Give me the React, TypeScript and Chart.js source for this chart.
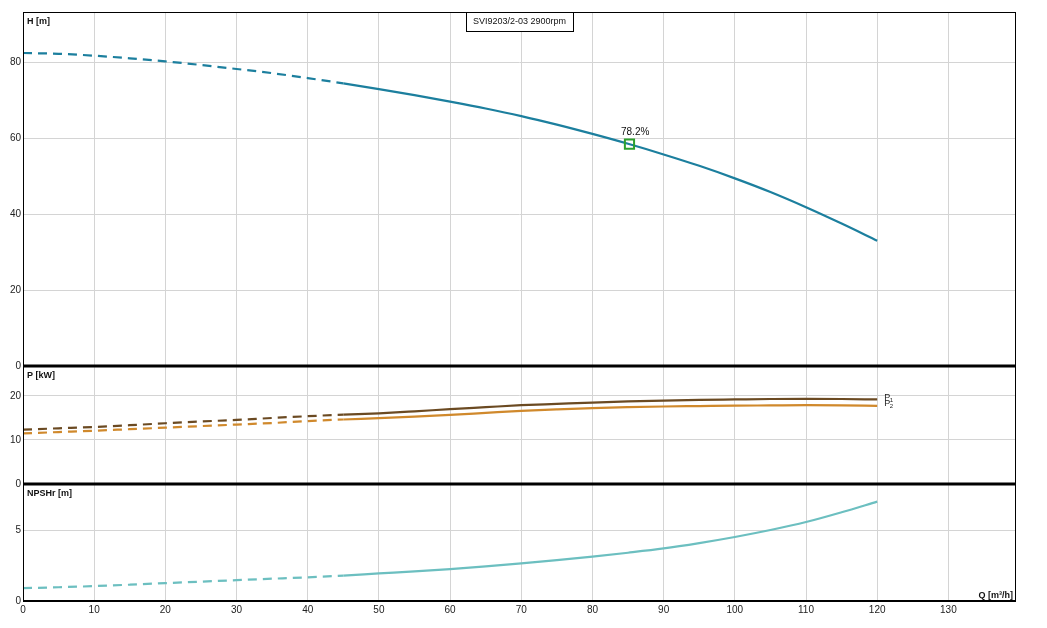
import React, { useEffect, useRef } from 'react';
import Chart from 'chart.js/auto';

// pump curve data (Q in m³/h)
const flow = [0, 5, 10, 15, 20, 25, 30, 35, 40, 45, 50, 55, 60, 65, 70, 75, 80, 85, 90, 95, 100, 105, 110, 115, 120];
const head = [82.4, 82.2, 81.7, 81.0, 80.2, 79.25, 78.2, 77.1, 75.8, 74.4, 72.9, 71.3, 69.6, 67.8, 65.8, 63.55, 61.1, 58.5, 55.7, 52.7, 49.4, 45.8, 41.8, 37.5, 33.0];
const power1 = [12.35, 12.65, 12.95, 13.35, 13.8, 14.2, 14.55, 15.0, 15.4, 15.75, 16.05, 16.5, 17.0, 17.45, 17.9, 18.2, 18.5, 18.75, 18.95, 19.1, 19.2, 19.3, 19.35, 19.3, 19.2];
const power2 = [11.5, 11.8, 12.1, 12.45, 12.8, 13.15, 13.5, 13.85, 14.3, 14.65, 14.95, 15.3, 15.7, 16.15, 16.6, 16.95, 17.25, 17.45, 17.6, 17.7, 17.8, 17.85, 17.9, 17.85, 17.75];
const npshr = [0.9, 0.97, 1.05, 1.15, 1.26, 1.36, 1.47, 1.57, 1.67, 1.79, 1.94, 2.08, 2.25, 2.44, 2.65, 2.88, 3.13, 3.4, 3.7, 4.08, 4.51, 5.0, 5.56, 6.25, 7.0];

// curves are dashed below this flow
const dashEnd = 45;

// duty point
const dutyFlow = 85.2;
const dutyHead = 58.4;
const dutyLabel = '78.2%';

const modelName = 'SVI9203/2-03 2900rpm';

const FONT = '"Liberation Sans", Arial, sans-serif';

Chart.defaults.font.family = FONT;
Chart.defaults.font.size = 10;
Chart.defaults.color = '#222';

const pts = (vals: number[]) => flow.map((q, i) => ({ x: q, y: vals[i] }));
const dashBefore = (ctx: any) => (ctx.p1.parsed.x <= dashEnd ? [9, 6] : undefined);

const curve = (vals: number[], color: string) => ({
  data: pts(vals),
  borderColor: color,
  borderWidth: 2.2,
  pointRadius: 0,
  cubicInterpolationMode: 'monotone' as const,
  segment: { borderDash: dashBefore },
});

// frame + panel title
const panelDecor = {
  id: 'panelDecor',
  afterDraw(chart: any, _args: any, opts: any) {
    const { ctx, chartArea: a } = chart;
    ctx.save();
    ctx.strokeStyle = '#000';
    ctx.lineWidth = 1;
    ctx.beginPath();
    ctx.moveTo(a.left + 0.5, a.top);
    ctx.lineTo(a.left + 0.5, a.bottom);
    ctx.moveTo(a.right - 0.5, a.top);
    ctx.lineTo(a.right - 0.5, a.bottom);
    if (!opts.thickTop) {
      ctx.moveTo(a.left, a.top + 0.5);
      ctx.lineTo(a.right, a.top + 0.5);
    }
    ctx.stroke();
    if (opts.thickTop) {
      ctx.lineWidth = 3;
      ctx.beginPath();
      ctx.moveTo(a.left, a.top);
      ctx.lineTo(a.right, a.top);
      ctx.stroke();
    }
    if (opts.bottomLine) {
      ctx.lineWidth = 2;
      ctx.beginPath();
      ctx.moveTo(a.left, a.bottom);
      ctx.lineTo(a.right, a.bottom);
      ctx.stroke();
    }
    ctx.fillStyle = '#111';
    ctx.font = `bold 9px ${FONT}`;
    ctx.textBaseline = 'top';
    ctx.textAlign = 'left';
    ctx.fillText(opts.label, a.left + 4, a.top + 5);
    if (opts.xLabel) {
      ctx.textAlign = 'right';
      ctx.textBaseline = 'alphabetic';
      ctx.fillText(opts.xLabel, a.right - 3, a.bottom - 3);
    }
    ctx.restore();
  },
};

// model caption and duty point label
const headExtras = {
  id: 'headExtras',
  afterDraw(chart: any) {
    const { ctx, chartArea: a, scales } = chart;
    ctx.save();
    ctx.font = `9px ${FONT}`;
    const w = ctx.measureText(modelName).width + 14;
    const cx = (a.left + a.right) / 2;
    ctx.fillStyle = '#fff';
    ctx.fillRect(cx - w / 2, a.top, w, 19);
    ctx.strokeStyle = '#000';
    ctx.lineWidth = 1;
    ctx.strokeRect(Math.round(cx - w / 2) + 0.5, a.top + 0.5, Math.round(w), 19);
    ctx.fillStyle = '#111';
    ctx.textAlign = 'center';
    ctx.textBaseline = 'middle';
    ctx.fillText(modelName, cx, a.top + 10);

    const px = scales.x.getPixelForValue(dutyFlow);
    const py = scales.y.getPixelForValue(dutyHead);
    ctx.font = `10px ${FONT}`;
    ctx.textAlign = 'left';
    ctx.textBaseline = 'alphabetic';
    ctx.fillText(dutyLabel, px - 8.5, py - 9);
    ctx.restore();
  },
};

// P1 / P2 tags at the curve ends
const powerTags = {
  id: 'powerTags',
  afterDatasetsDraw(chart: any) {
    const { ctx, scales } = chart;
    const last = flow.length - 1;
    const px = scales.x.getPixelForValue(flow[last]) + 7;
    ctx.save();
    ctx.fillStyle = '#222';
    ctx.textAlign = 'left';
    ctx.textBaseline = 'alphabetic';
    ([[power1, '1'], [power2, '2']] as [number[], string][]).forEach(([vals, sub]) => {
      const py = scales.y.getPixelForValue(vals[last]) + 0.5;
      ctx.font = `9px ${FONT}`;
      ctx.fillText('P', px, py);
      ctx.font = `6px ${FONT}`;
      ctx.fillText(sub, px + 5.5, py + 2);
    });
    ctx.restore();
  },
};

const gridColor = '#d4d4d4';

const xScale = (showLabels: boolean) => ({
  type: 'linear' as const,
  min: 0,
  max: 139.5,
  border: { display: false },
  grid: { color: gridColor, drawTicks: false },
  ticks: { stepSize: 10, includeBounds: false, display: showLabels, padding: 3, maxRotation: 0 },
  afterFit: showLabels ? (s: any) => { s.height = 27; } : undefined,
});

const yScale = (max: number, step: number) => ({
  type: 'linear' as const,
  min: 0,
  max,
  border: { display: false },
  grid: { color: gridColor, drawTicks: false },
  ticks: { stepSize: step, includeBounds: false, padding: 2 },
  afterFit: (s: any) => { s.width = 23; },
});

const baseOptions = (padding: any, yMax: number, yStep: number, showX: boolean, decor: any) => ({
  responsive: true,
  maintainAspectRatio: false,
  animation: false as const,
  events: [],
  layout: { padding },
  plugins: { legend: { display: false }, tooltip: { enabled: false }, panelDecor: decor },
  scales: { x: xScale(showX), y: yScale(yMax, yStep) },
});

export default function App() {
  const headRef = useRef<HTMLCanvasElement>(null);
  const powerRef = useRef<HTMLCanvasElement>(null);
  const npshRef = useRef<HTMLCanvasElement>(null);

  useEffect(() => {
    if (!headRef.current || !powerRef.current || !npshRef.current) return;

    const headChart = new Chart(headRef.current, {
      type: 'line',
      data: {
        datasets: [
          {
            data: [{ x: dutyFlow, y: dutyHead }],
            showLine: false,
            pointStyle: 'rect',
            pointRadius: 6.5,
            pointBorderWidth: 2,
            pointBorderColor: '#2ca02c',
            pointBackgroundColor: 'rgba(0,0,0,0)',
            order: 0,
          } as any,
          { ...curve(head, '#1c7f9e'), order: 1 } as any,
        ],
      },
      options: baseOptions({ top: 12, bottom: 12, left: 0, right: 31 }, 93.2, 20, false, { label: 'H [m]' }) as any,
      plugins: [panelDecor, headExtras],
    });

    const powerChart = new Chart(powerRef.current, {
      type: 'line',
      data: {
        datasets: [curve(power1, '#6b4a22') as any, curve(power2, '#d0892c') as any],
      },
      options: baseOptions({ top: 12, bottom: 12, left: 0, right: 31 }, 26.8, 10, false, { label: 'P [kW]', thickTop: true }) as any,
      plugins: [panelDecor, powerTags],
    });

    const npshChart = new Chart(npshRef.current, {
      type: 'line',
      data: {
        datasets: [curve(npshr, '#6cbfc0') as any],
      },
      options: baseOptions({ top: 12, bottom: 0, left: 0, right: 31 }, 8.24, 5, true, {
        label: 'NPSHr [m]',
        thickTop: true,
        bottomLine: true,
        xLabel: 'Q [m³/h]',
      }) as any,
      plugins: [panelDecor],
    });

    return () => {
      headChart.destroy();
      powerChart.destroy();
      npshChart.destroy();
    };
  }, []);

  return (
    <div style={{ position: 'absolute', left: 0, top: 0, width: 1047, height: 628, background: '#fff' }}>
      <div style={{ position: 'absolute', left: 0, top: 0, width: 1047, height: 378 }}>
        <canvas ref={headRef}></canvas>
      </div>
      <div style={{ position: 'absolute', left: 0, top: 354, width: 1047, height: 142 }}>
        <canvas ref={powerRef}></canvas>
      </div>
      <div style={{ position: 'absolute', left: 0, top: 472, width: 1047, height: 156 }}>
        <canvas ref={npshRef}></canvas>
      </div>
    </div>
  );
}
